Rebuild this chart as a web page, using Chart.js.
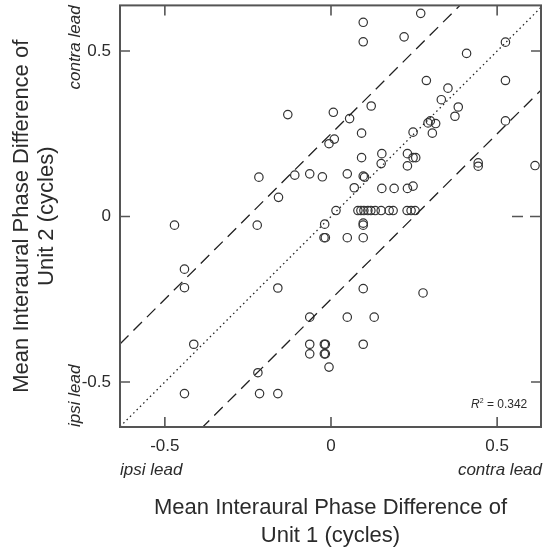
<!DOCTYPE html>
<html>
<head>
<meta charset="utf-8">
<script src="https://cdn.jsdelivr.net/npm/chart.js@4"></script>
<style>
 body{margin:0;background:#fff;}
 canvas{display:block;}
</style>
</head>
<body>
<canvas id="chart" width="548" height="550"></canvas>
<script>

// axis ranges and ticks
const xRange=[-0.635,0.632];
const yRange=[-0.636,0.638];
const xTicks=[-0.5,0,0.5];
const yTicks=[-0.5,0,0.5];

// mean IPD of unit 1 (x) and unit 2 (y), one entry per pair
const unit1=[
 0.097,0.097,0.220,0.270,0.525,0.408,0.287,0.525,0.352,0.332,
 0.383,0.373,0.292,0.299,0.315,0.305,0.525,0.247,0.230,0.247,
 0.255,0.230,0.443,0.443,0.614,0.230,0.247,-0.130,0.007,0.121,
 0.056,0.092,-0.006,0.010,0.092,0.153,0.151,-0.109,-0.064,-0.026,
 0.049,0.101,0.097,-0.217,-0.158,0.070,0.153,0.190,
 0.015,0.081,0.090,0.099,0.111,0.120,0.133,0.151,0.175,0.187,0.229,0.241,0.253,
 -0.019,0.097,0.097,-0.021,-0.017,0.049,0.097,-0.222,-0.471,-0.441,
 -0.441,-0.413,-0.220,-0.441,-0.215,-0.160,-0.160,-0.064,0.049,0.130,
 0.097,-0.064,-0.064,-0.020,-0.017,-0.020,-0.017,-0.006,0.097,0.277
];
const unit2=[
 0.587,0.528,0.543,0.614,0.527,0.493,0.411,0.411,0.388,0.353,
 0.331,0.303,0.283,0.289,0.281,0.252,0.289,0.255,0.190,0.178,
 0.178,0.153,0.162,0.152,0.154,0.085,0.092,0.308,0.315,0.334,
 0.296,0.252,0.220,0.234,0.178,0.190,0.160,0.125,0.129,0.120,
 0.129,0.119,0.122,0.119,0.058,0.087,0.085,0.085,
 0.018,0.018,0.018,0.018,0.018,0.018,0.018,0.018,0.018,0.018,0.018,0.018,0.018,
 -0.023,-0.020,-0.026,-0.064,-0.064,-0.064,-0.064,-0.026,-0.026,-0.159,
 -0.215,-0.386,-0.472,-0.535,-0.535,-0.535,-0.216,-0.304,-0.304,-0.304,
 -0.218,-0.386,-0.415,-0.386,-0.386,-0.415,-0.415,-0.455,-0.386,-0.231
];

// reference lines y = x + offset
const diagOffsets=[0.25,0,-0.25];
const diagDashes=[[12,7],[1.5,3.2],[12,7]];

const rSquared="0.342";

const FONT="'Liberation Sans', Arial, sans-serif";
const INK="#2b2b2b";

let points=unit1.map((x,i)=>({x:x,y:unit2[i]}));

let lineSets=diagOffsets.map((c,i)=>({
  data:[{x:xRange[0],y:xRange[0]+c},{x:xRange[1],y:xRange[1]+c}],
  showLine:true,
  pointRadius:0,
  borderColor:"#222",
  borderWidth:1.3,
  borderDash:diagDashes[i]
}));

const framePlugin={
  id:"frame",
  afterDraw(chart){
    const ctx=chart.ctx;
    const a=chart.chartArea;
    const xs=chart.scales.x, ys=chart.scales.y;
    ctx.save();
    ctx.strokeStyle="#555";
    ctx.lineWidth=2;
    ctx.strokeRect(a.left,a.top,a.right-a.left,a.bottom-a.top);

    // inward ticks on all four sides
    ctx.lineWidth=1.6;
    ctx.beginPath();
    xTicks.forEach(v=>{
      let px=xs.getPixelForValue(v);
      ctx.moveTo(px,a.bottom);ctx.lineTo(px,a.bottom-10);
      ctx.moveTo(px,a.top);ctx.lineTo(px,a.top+10);
    });
    yTicks.forEach(v=>{
      let py=ys.getPixelForValue(v);
      ctx.moveTo(a.left,py);ctx.lineTo(a.left+10,py);
      if(v!==0){ctx.moveTo(a.right,py);ctx.lineTo(a.right-10,py);}
    });
    ctx.stroke();
    // right tick at zero looks dashed in the original
    let p0=ys.getPixelForValue(0);
    ctx.setLineDash([11,7]);
    ctx.beginPath();
    ctx.moveTo(a.right,p0);ctx.lineTo(a.right-30,p0);
    ctx.stroke();
    ctx.setLineDash([]);

    // direction labels
    ctx.fillStyle=INK;
    ctx.font="italic 17px "+FONT;
    ctx.textBaseline="middle";
    ctx.textAlign="left";
    ctx.fillText("ipsi lead",a.left,470);
    ctx.textAlign="right";
    ctx.fillText("contra lead",a.right+1,470);

    ctx.save();
    ctx.translate(75,0);
    ctx.rotate(-Math.PI/2);
    ctx.textAlign="right";
    ctx.fillText("contra lead",-a.top,0);
    ctx.textAlign="left";
    ctx.fillText("ipsi lead",-a.bottom,0);
    ctx.restore();

    // R squared
    ctx.textBaseline="alphabetic";
    ctx.textAlign="left";
    let tx=471, ty=408;
    ctx.font="italic 12px "+FONT;
    ctx.fillText("R",tx,ty);
    tx+=ctx.measureText("R").width;
    ctx.font="7px "+FONT;
    ctx.fillText("2",tx,ty-5);
    tx+=ctx.measureText("2").width;
    ctx.font="12px "+FONT;
    ctx.fillText(" = "+rSquared,tx,ty);
    ctx.restore();
  }
};

new Chart(document.getElementById("chart"),{
  type:"scatter",
  data:{
    datasets:[
      ...lineSets,
      {
        data:points,
        pointRadius:4.2,
        pointBorderWidth:1.2,
        pointBorderColor:"#333",
        pointBackgroundColor:"rgba(0,0,0,0)",
        showLine:false
      }
    ]
  },
  options:{
    responsive:false,
    animation:false,
    devicePixelRatio:1,
    layout:{padding:{top:5,right:7,left:0,bottom:0}},
    plugins:{legend:{display:false},tooltip:{enabled:false}},
    scales:{
      x:{
        type:"linear",
        min:xRange[0],max:xRange[1],
        afterBuildTicks:s=>{s.ticks=xTicks.map(v=>({value:v}));},
        afterFit:s=>{s.height=123;s.paddingLeft=0;s.paddingRight=0;},
        grid:{display:false,drawTicks:false,tickLength:0},
        border:{display:false},
        ticks:{color:INK,font:{family:FONT,size:17},padding:9,callback:v=>String(v),maxRotation:0},
        title:{display:true,text:["Mean Interaural Phase Difference of","Unit 1 (cycles)"],
          color:INK,font:{family:FONT,size:22,lineHeight:1.27},padding:{top:0,bottom:0}}
      },
      y:{
        type:"linear",
        min:yRange[0],max:yRange[1],
        afterBuildTicks:s=>{s.ticks=yTicks.map(v=>({value:v}));},
        afterFit:s=>{s.width=120;s.paddingTop=0;s.paddingBottom=0;},
        grid:{display:false,drawTicks:false,tickLength:0},
        border:{display:false},
        ticks:{color:INK,font:{family:FONT,size:17},padding:9,callback:v=>String(v)},
        title:{display:true,text:["Mean Interaural Phase Difference of","Unit 2 (cycles)"],
          color:INK,font:{family:FONT,size:22,lineHeight:1.15},padding:{top:9,bottom:0}}
      }
    }
  },
  plugins:[framePlugin]
});
</script>
</body>
</html>
